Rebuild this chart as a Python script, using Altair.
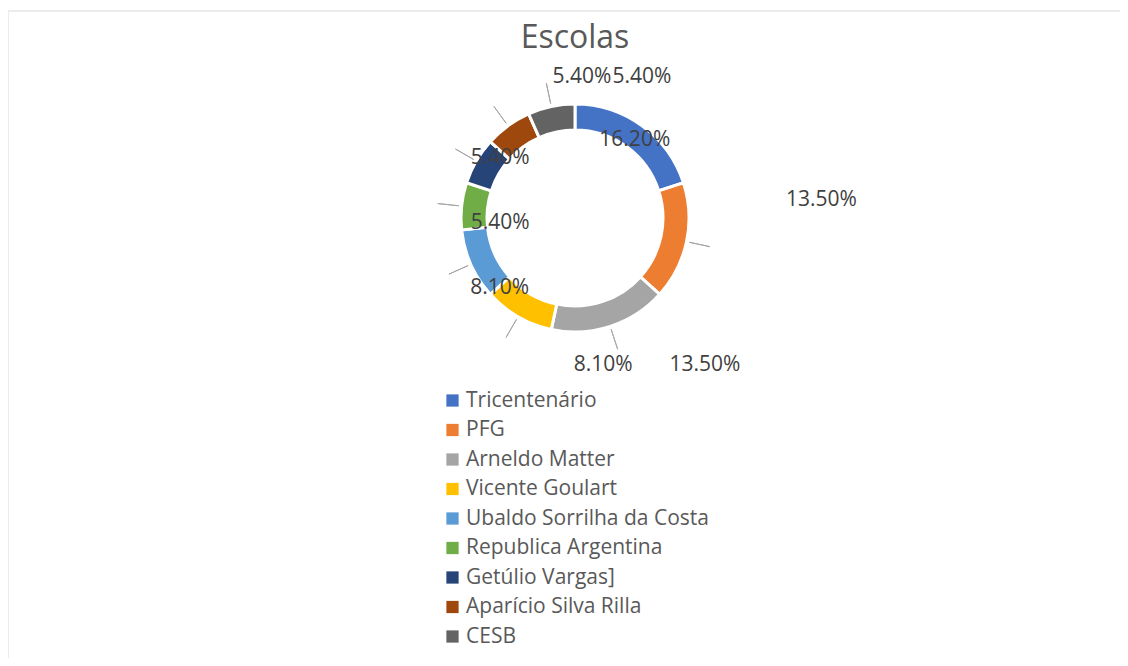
import math
import altair as alt
import pandas as pd

# ---- data ----
schools = [
    "Tricentenário",
    "PFG",
    "Arneldo Matter",
    "Vicente Goulart",
    "Ubaldo Sorrilha da Costa",
    "Republica Argentina",
    "Getúlio Vargas]",
    "Aparício Silva Rilla",
    "CESB",
]
shares = [16.2, 13.5, 13.5, 8.1, 8.1, 5.4, 5.4, 5.4, 5.4]
labels = ["16.20%", "13.50%", "13.50%", "8.10%", "8.10%", "5.40%", "5.40%", "5.40%", "5.40%"]
colors = ["#4472C4", "#ED7D31", "#A5A5A5", "#FFC000", "#5B9BD5",
          "#70AD47", "#264478", "#9E480E", "#636363"]

# Excel's (displaced) data-label layout: shift from slice mid-angle (deg) and distance (px)
label_shift_deg = [1.6, -16.2, -23.5, -40.8, -19.0, -9.8, 8.7, 38.8, 37.4]
label_dist = [98, 247, 196, 150, 103, 75, 96, 141, 156]

# ---- derived table ----
total = sum(shares)
rows = []
cum = 0.0
for i, (s, v, lab) in enumerate(zip(schools, shares, labels)):
    mid = cum + v / 2.0
    cum += v
    mid_rad = mid / total * 2 * math.pi
    rows.append({
        "school": s,
        "share": v,
        "label": lab,
        "order": i,
        "mid_rad": mid_rad,
        "label_theta": mid_rad + math.radians(label_shift_deg[i]),
        "label_dist": label_dist[i],
    })
df = pd.DataFrame(rows)

CX, CY = 567, 210
W, H = 1112, 650
FONT = "Open Sans"

one = pd.DataFrame({"a": [0]})

border_top = alt.Chart(one).mark_rule(color="#ececec", strokeWidth=2).encode(
    x=alt.value(0), x2=alt.value(W + 20), y=alt.value(3)
)
border_left = alt.Chart(one).mark_rule(color="#ececec", strokeWidth=2).encode(
    x=alt.value(0), y=alt.value(3), y2=alt.value(H + 20)
)

arcs = alt.Chart(df).mark_arc(
    innerRadius=88, outerRadius=114, stroke="white", strokeWidth=3
).encode(
    theta=alt.Theta("share:Q", stack=True),
    order=alt.Order("order:Q"),
    color=alt.Color(
        "school:N",
        sort=schools,
        scale=alt.Scale(domain=schools, range=colors),
        legend=alt.Legend(
            orient="none", legendX=434, legendY=382, direction="vertical",
            title=None, symbolType="square", symbolSize=150, symbolStrokeWidth=0,
            labelFont=FONT, labelFontSize=21, labelColor="#595959",
            rowPadding=7.5, labelOffset=3, labelLimit=500,
        ),
    ),
    x=alt.value(CX),
    y=alt.value(CY),
)

leaders = alt.Chart(df[df["order"] > 0]).mark_arc(
    stroke="#a6a6a6", strokeWidth=1, fill="transparent"
).encode(
    theta=alt.Theta("mid_rad:Q", scale=None),
    theta2=alt.Theta2("mid_rad:Q"),
    radius=alt.value(117),
    radius2=alt.value(138),
    x=alt.value(CX),
    y=alt.value(CY),
)

texts = alt.Chart(df).mark_text(
    font=FONT, fontSize=21, color="#404040", align="center", baseline="middle"
).encode(
    theta=alt.Theta("label_theta:Q", scale=None),
    radius=alt.Radius("label_dist:Q", scale=None),
    text="label:N",
    x=alt.value(CX),
    y=alt.value(CY),
)

title = alt.Chart(pd.DataFrame({"t": ["Escolas"]})).mark_text(
    font=FONT, fontSize=32, color="#595959", align="center", baseline="alphabetic"
).encode(text="t:N", x=alt.value(CX), y=alt.value(40))

chart = alt.layer(border_top, border_left, arcs, leaders, texts, title).resolve_scale(
    theta="independent"
).properties(
    width=W, height=H, autosize="none", padding=0
).configure_view(strokeWidth=0, stroke="transparent")

chart.save("out.html", embed_options={"renderer": "svg", "actions": False})
